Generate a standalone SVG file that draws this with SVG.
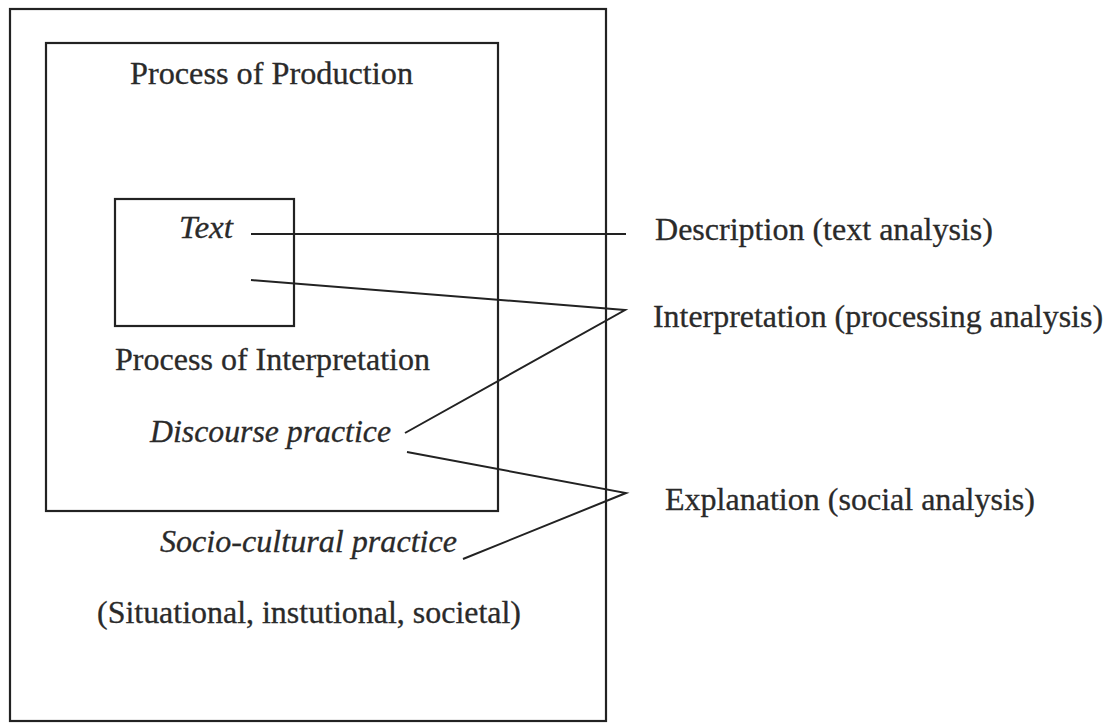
<svg xmlns="http://www.w3.org/2000/svg" width="1109" height="724" viewBox="0 0 1109 724">
<style>
.box{fill:none;stroke:#222;stroke-width:2.2}
.ln{fill:none;stroke:#222;stroke-width:2}
.t{font-family:'Times New Roman','Liberation Serif',Tinos,'Nimbus Roman',Times,serif;font-size:32px;fill:#2a2a2a;stroke:#2a2a2a;stroke-width:0.3}
.it{font-style:italic}
</style>
<rect width="1109" height="724" fill="#fff"/>
<g id="outer"><rect class="box" x="10" y="9" width="596" height="712"/>
<text class="t" x="97" y="623" textLength="424" lengthAdjust="spacingAndGlyphs">(Situational, instutional, societal)</text>
<text class="t it" x="160" y="552" textLength="297" lengthAdjust="spacingAndGlyphs">Socio-cultural practice</text></g>
<g id="inner"><rect class="box" x="46" y="43" width="452" height="468"/>
<text class="t" x="130" y="84" textLength="283" lengthAdjust="spacingAndGlyphs">Process of Production</text>
<text class="t" x="115" y="370" textLength="315" lengthAdjust="spacingAndGlyphs">Process of Interpretation</text>
<text class="t it" x="150" y="442" textLength="241" lengthAdjust="spacingAndGlyphs">Discourse practice</text></g>
<g id="textbox"><rect class="box" x="115" y="199" width="179" height="127"/>
<text class="t it" x="179" y="238" textLength="54" lengthAdjust="spacingAndGlyphs">Text</text></g>
<g id="labels">
<text class="t" x="655" y="240" textLength="338" lengthAdjust="spacingAndGlyphs">Description (text analysis)</text>
<text class="t" x="653" y="327" textLength="450" lengthAdjust="spacingAndGlyphs">Interpretation (processing analysis)</text>
<text class="t" x="665" y="510" textLength="370" lengthAdjust="spacingAndGlyphs">Explanation (social analysis)</text>
</g>
<g id="connectors">
<path class="ln" d="M251 234 L626 234"/>
<path class="ln" d="M251 280 L625 310 L405 433"/>
<path class="ln" d="M407 452 L626 493 L463 559"/>
</g>
</svg>
